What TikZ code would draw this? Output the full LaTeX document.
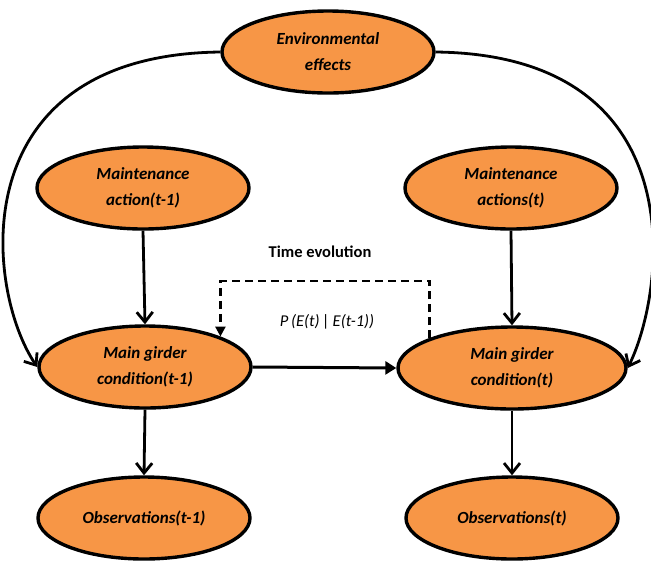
\documentclass[tikz,border=0pt]{standalone}
\usepackage{fontspec}
\setmainfont{Carlito}
\usetikzlibrary{positioning,shapes.geometric,arrows.meta}
\definecolor{boxorange}{HTML}{F79646}

\begin{document}
\begin{tikzpicture}[x=1pt,y=-1pt,
				block/.style={ellipse,draw,line width=3.4pt,fill=boxorange,minimum width=212pt,minimum height=82pt,
					inner sep=0pt,align=center,font=\fontsize{17}{26}\selectfont\bfseries\itshape},
				barb/.style={line width=2.8pt,-{Straight Barb[length=10pt,width=16pt,line width=2.8pt]}},
				tri/.style={line width=3pt,-{Triangle[length=11pt,width=13pt]}},
				dashline/.style={line width=2.4pt,dash pattern=on 8pt off 5pt,-{Triangle[length=10pt,width=10pt]}}]
				\useasboundingbox (0,0) rectangle (651,566);
				\node[block] (ENV) at (328,52)  {Environmental\\effects};
				\node[block] (MA1) at (143,188) {Maintenance\\action(\textit{t}-1)};
				\node[block] (MA2) at (511,188) {Maintenance\\actions(\textit{t})};
				\node[block] (MG1) at (145,367) {Main girder\\condition(\textit{t}-1)};
				\node[block,minimum width=228pt] (MG2) at (512,368) {Main girder\\condition(\textit{t})};
				\node[block] (OB1) at (144,518) {Observations(\textit{t}-1)};
				\node[block] (OB2) at (512,518) {Observations(\textit{t})};
				\node[font=\fontsize{16.5}{20}\selectfont\bfseries] (TIME) at (320,252) {Time evolution};
				\node[font=\fontsize{16.5}{20}\selectfont\itshape] (PROB) at (327,322) {P\,(E(t)\,|\,E(t-1))};
				
				\draw[barb] (MA1.south) -- (MG1.north);
				\draw[barb] (MA2.south) -- (MG2.north);
				\draw[barb] (MG1.south) -- (OB1.north);
				\draw[barb] (MG2.south) -- (OB2.north);
				\draw[tri]  (MG1.east) -- (MG2.west);
				\draw[barb] (ENV.west) .. controls (-40,55) and (-15,290) .. (MG1.west);
				\draw[barb] (ENV.east) .. controls (696,55) and (666,290) .. (MG2.east);
				\draw[dashline] (MG2.160) -- ++(0,-57) -| (MG1.22);
			\end{tikzpicture}
\end{document}
